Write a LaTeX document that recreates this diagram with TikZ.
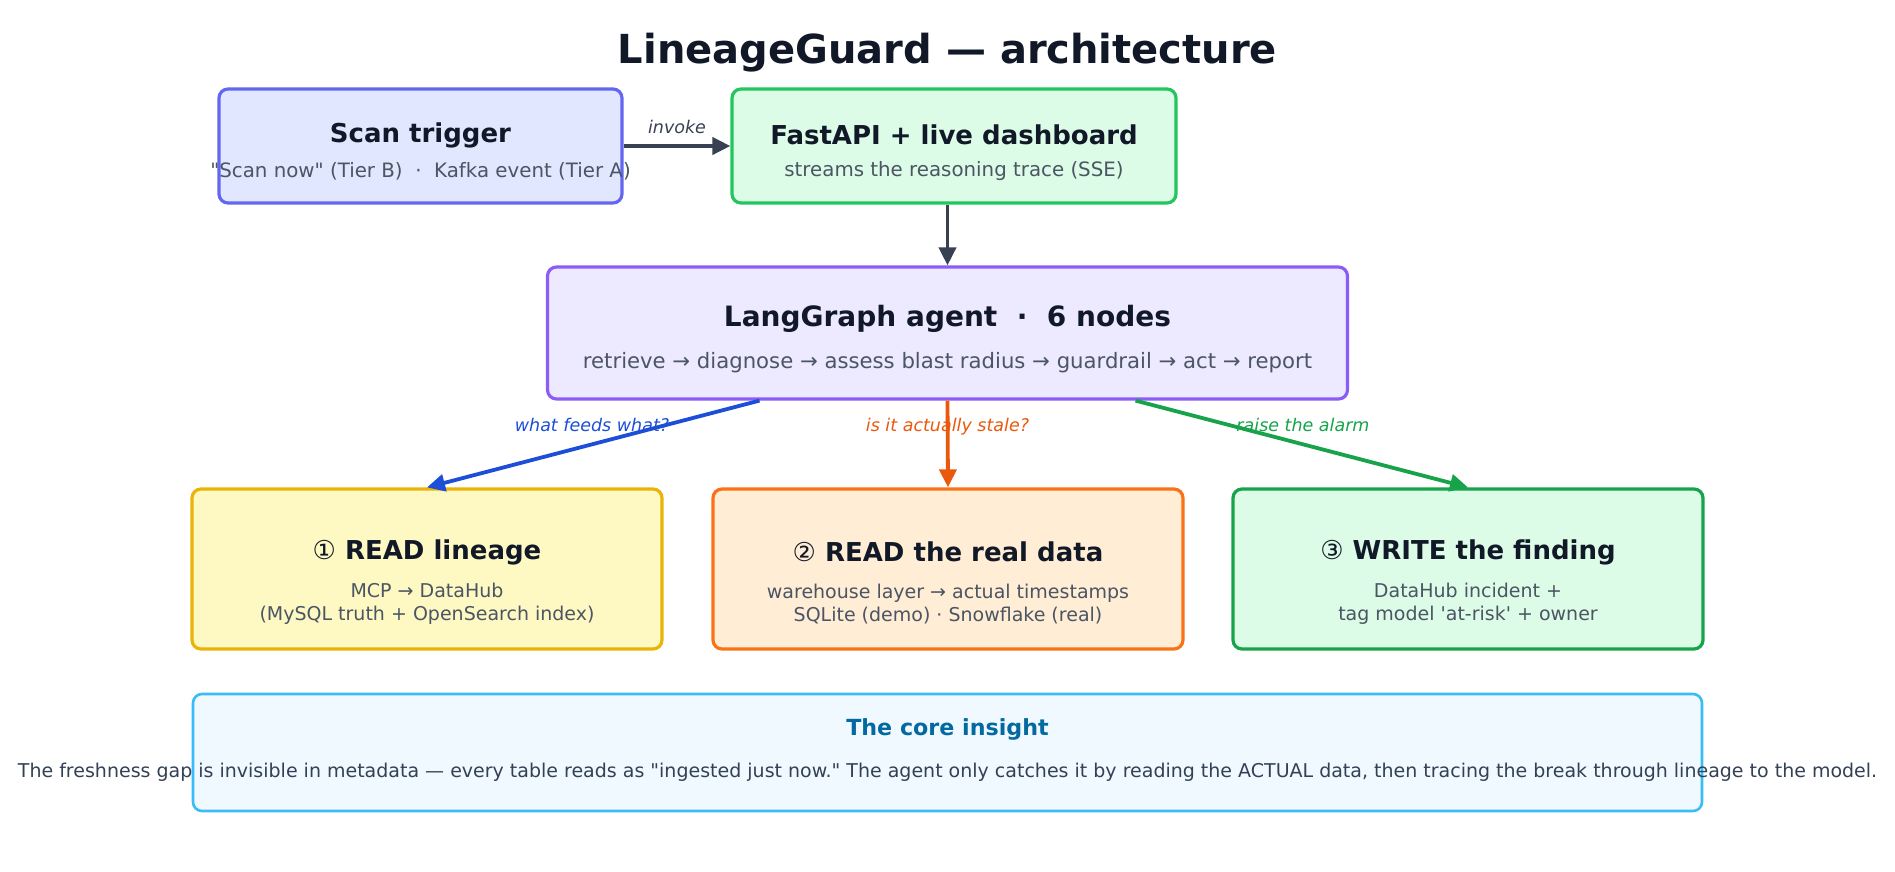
\documentclass[tikz,border=0pt]{standalone}
\usepackage{fontspec}
\setmainfont[Ligatures=TeXOff]{DejaVu Sans}
\usetikzlibrary{positioning,arrows.meta}
\definecolor{ink}{HTML}{111827}
\definecolor{note}{HTML}{4B5563}
\definecolor{wire}{HTML}{374151}
\definecolor{indigo}{HTML}{6366F1}
\definecolor{lightindigo}{HTML}{E0E7FF}
\definecolor{mint}{HTML}{22C55E}
\definecolor{lightmint}{HTML}{DCFCE7}
\definecolor{violet}{HTML}{8B5CF6}
\definecolor{lightviolet}{HTML}{EDE9FE}
\definecolor{gold}{HTML}{EAB308}
\definecolor{lightgold}{HTML}{FEF9C3}
\definecolor{orange}{HTML}{F97316}
\definecolor{lightorange}{HTML}{FFEDD5}
\definecolor{forest}{HTML}{16A34A}
\definecolor{sky}{HTML}{38BDF8}
\definecolor{lightsky}{HTML}{F0F9FF}
\definecolor{skyink}{HTML}{0369A1}
\definecolor{slate}{HTML}{334155}
\definecolor{royal}{HTML}{1D4ED8}
\definecolor{rust}{HTML}{EA580C}

\begin{document}
\begin{tikzpicture}[x=1pt,y=-1pt,every node/.style={inner sep=0pt,text=ink},
  card/.style={draw,line width=3.2pt,rounded corners=9pt},
  cardhead/.style={font=\fontsize{26}{31}\selectfont\bfseries},
  cardnote/.style={font=\fontsize{19.8}{23}\selectfont,text=note,align=center},
  flow/.style={line width=3.8pt,-{Triangle[length=18pt,width=17pt]}},
  flowtag/.style={font=\fontsize{17.5}{21}\selectfont\itshape}]
\useasboundingbox (0,0) rectangle (1895,871);
\node[font=\fontsize{40}{46}\selectfont\bfseries] (title) at (947.5,53) {LineageGuard — architecture};
% Entry row: trigger and the API that streams the trace.
\node[card,draw=indigo,fill=lightindigo,minimum width=403pt,minimum height=114pt] (scan) at (420.5,146) {};
\node[cardhead] (scanhead) at (420.5,135) {Scan trigger};
\node[cardnote] (scannote) at (420.5,171) {"Scan now" (Tier B) \ ·\ \ Kafka event (Tier A)};
\node[card,draw=mint,fill=lightmint,minimum width=444pt,minimum height=114pt] (api) at (954,146) {};
\node[cardhead] (apihead) at (954,135) {FastAPI + live dashboard};
\node[cardnote] (apinote) at (954,171) {streams the reasoning trace (SSE)};
% The agent in the middle.
\node[card,draw=violet,fill=lightviolet,minimum width=800pt,minimum height=132pt] (agent) at (947.5,333) {};
\node[cardhead,font=\fontsize{28}{33}\selectfont\bfseries] (agenthead) at (947.5,318.5) {LangGraph agent \ ·\ \ 6 nodes};
\node[cardnote,font=\fontsize{21.2}{25}\selectfont] (agentnote) at (947.5,363) {retrieve → diagnose → assess blast radius → guardrail → act → report};
% Three tool steps.
\foreach \name/\cx/\border/\filltone/\head/\lineone/\linetwo in {
  lineage/427/gold/lightgold/{{\mdseries ①} READ lineage}/{MCP → DataHub}/{(MySQL truth + OpenSearch index)},
  realdata/948/orange/lightorange/{{\mdseries ②} READ the real data}/{warehouse layer → actual timestamps}/{SQLite (demo) · Snowflake (real)},
  finding/1468/forest/lightmint/{{\mdseries ③} WRITE the finding}/{DataHub incident +}/{tag model 'at-risk' + owner}}{
  \node[card,draw=\border,fill=\filltone,minimum width=470pt,minimum height=160pt] (\name) at (\cx,569) {};
  \node[cardhead] (\name head) at (\cx,552) {\head};
  \node[cardnote,font=\fontsize{19}{23}\selectfont] (\name note) at (\cx,604) {\lineone\\\linetwo};
}
% Bottom note.
\node[card,draw=sky,fill=lightsky,line width=2.6pt,minimum width=1509pt,minimum height=117pt] (insight) at (947.5,752.5) {};
\node[font=\fontsize{22.2}{26}\selectfont\bfseries,text=skyink] (insighthead) at (947.5,729) {The core insight};
\node[font=\fontsize{19}{23}\selectfont,text=slate] (insightnote) at (947.5,772) {The freshness gap is invisible in metadata — every table reads as "ingested just now." The agent only catches it by reading the ACTUAL data, then tracing the break through lineage to the model.};
% Connectors.
\coordinate (agentleft) at ([xshift=-188pt]agent.south);
\coordinate (agentright) at ([xshift=188pt]agent.south);
\draw[flow,wire] (scan.east) -- (api.west) node[midway,above=10pt,flowtag,text=wire] (invoketag) {invoke};
\draw[flow,wire] (api.south -| agent.north) -- (agent.north);
\draw[flow,royal] (agentleft) -- (lineage.north);
\draw[flow,rust] (agent.south) -- (realdata.north);
\draw[flow,forest] (agentright) -- (finding.north);
\node[flowtag,text=royal] (feedstag) at (592,425) {what feeds what?};
\node[flowtag,text=rust] (staletag) at (947.5,427) {is it actually stale?};
\node[flowtag,text=forest] (alarmtag) at (1303,425) {raise the alarm};
\end{tikzpicture}
\end{document}
